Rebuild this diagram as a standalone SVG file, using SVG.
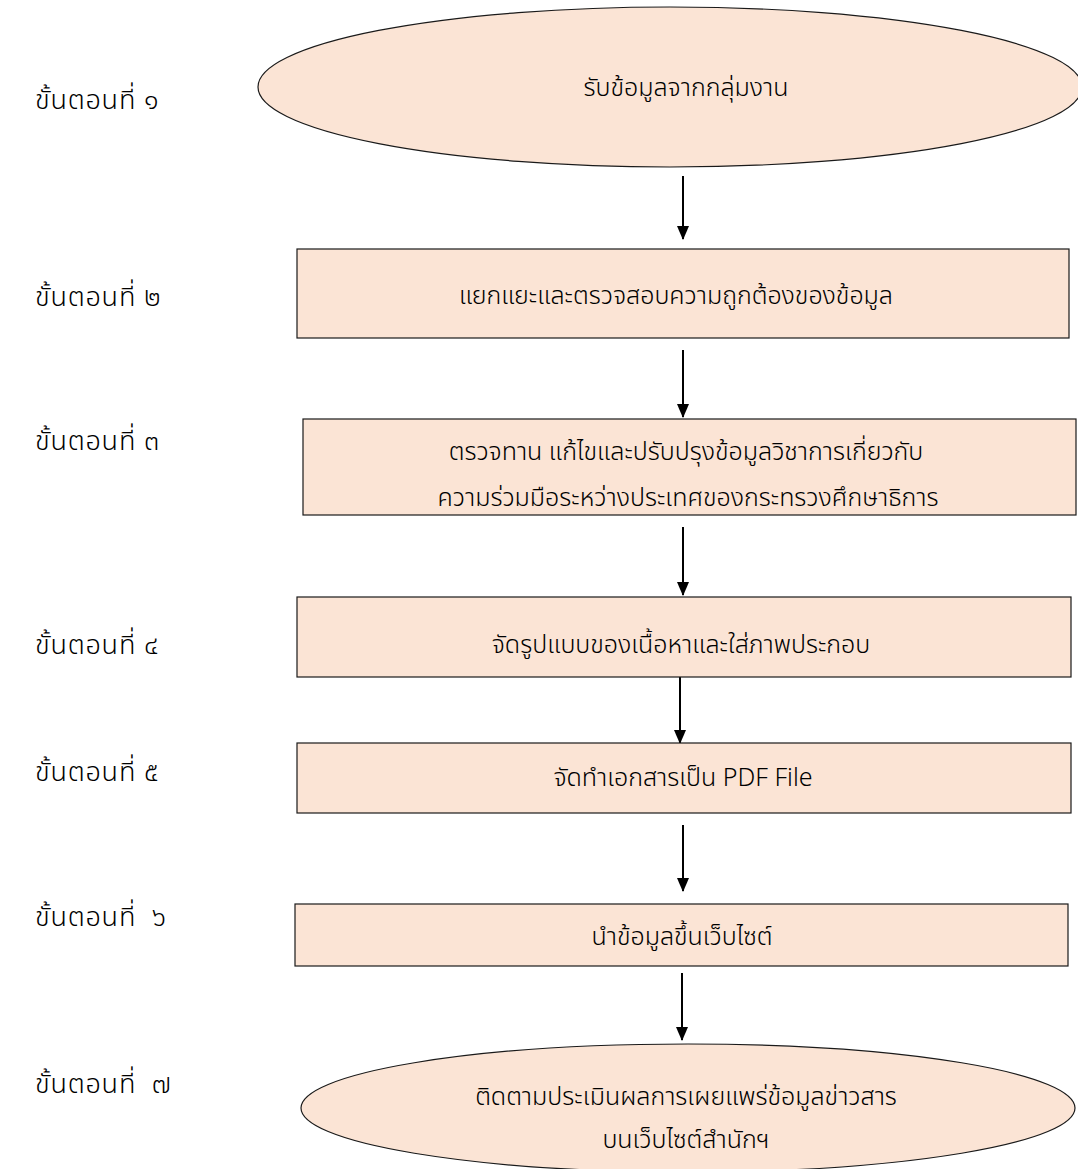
<svg xmlns="http://www.w3.org/2000/svg" width="1078" height="1169" viewBox="0 0 1078 1169">
  <defs>
    <marker id="arrow" markerWidth="14" markerHeight="12" refX="13" refY="6" orient="auto" markerUnits="userSpaceOnUse">
      <path d="M0,0 L14,6 L0,12 Z" fill="#000"/>
    </marker>
    <style>
      .shape { fill: #FBE4D5; stroke: #1a1a1a; stroke-width: 1.2; }
      .label { font-family: "Noto Sans Thai", "Noto Sans", "DejaVu Sans", sans-serif; font-size: 27px; font-weight: 300; letter-spacing: 0.8px; fill: #000; }
      .txt { font-family: "Noto Sans Thai", "Noto Sans", "DejaVu Sans", sans-serif; font-size: 25px; font-weight: 300; fill: #000; text-anchor: middle; dominant-baseline: central; }
      .conn { stroke: #000; stroke-width: 2; fill: none; marker-end: url(#arrow); }
    </style>
  </defs>
  <rect width="1078" height="1169" fill="#fff"/>

  <!-- step labels -->
  <g id="step-labels" class="label">
    <text x="35" y="109">ขั้นตอนที่ ๑</text>
    <text x="35" y="306">ขั้นตอนที่ ๒</text>
    <text x="35" y="450">ขั้นตอนที่ ๓</text>
    <text x="35" y="654">ขั้นตอนที่ ๔</text>
    <text x="35" y="781">ขั้นตอนที่ ๕</text>
    <text x="35" y="926">ขั้นตอนที่ &#160;๖</text>
    <text x="35" y="1093">ขั้นตอนที่ &#160;๗</text>
  </g>

  <!-- connectors -->
  <g id="connectors">
    <line class="conn" x1="683" y1="176" x2="683" y2="239"/>
    <line class="conn" x1="683" y1="350" x2="683" y2="417"/>
    <line class="conn" x1="683" y1="527" x2="683" y2="595"/>
    <line class="conn" x1="680" y1="677" x2="680" y2="743"/>
    <line class="conn" x1="683" y1="825" x2="683" y2="891"/>
    <line class="conn" x1="682" y1="973" x2="682" y2="1040"/>
  </g>

  <g id="node1">
    <ellipse class="shape" cx="670" cy="87" rx="412" ry="80"/>
    <text class="txt" x="686" y="88">รับข้อมูลจากกลุ่มงาน</text>
  </g>

  <g id="node2">
    <rect class="shape" x="297" y="249" width="772" height="89"/>
    <text class="txt" x="676" y="296">แยกแยะและตรวจสอบความถูกต้องของข้อมูล</text>
  </g>

  <g id="node3">
    <rect class="shape" x="303" y="419" width="773" height="96"/>
    <text class="txt" x="686" y="452">ตรวจทาน แก้ไขและปรับปรุงข้อมูลวิชาการเกี่ยวกับ</text>
    <text class="txt" x="688" y="498">ความร่วมมือระหว่างประเทศของกระทรวงศึกษาธิการ</text>
  </g>

  <g id="node4">
    <rect class="shape" x="297" y="597" width="774" height="80"/>
    <text class="txt" x="681" y="645">จัดรูปแบบของเนื้อหาและใส่ภาพประกอบ</text>
  </g>

  <g id="node5">
    <rect class="shape" x="297" y="743" width="774" height="70"/>
    <text class="txt" x="683" y="778">จัดทำเอกสารเป็น PDF File</text>
  </g>

  <g id="node6">
    <rect class="shape" x="295" y="904" width="773" height="62"/>
    <text class="txt" x="682" y="937">นำข้อมูลขึ้นเว็บไซต์</text>
  </g>

  <g id="node7">
    <ellipse class="shape" cx="688" cy="1108" rx="387" ry="64"/>
    <text class="txt" x="686" y="1097">ติดตามประเมินผลการเผยแพร่ข้อมูลข่าวสาร</text>
    <text class="txt" x="686" y="1140">บนเว็บไซต์สำนักฯ</text>
  </g>
</svg>
